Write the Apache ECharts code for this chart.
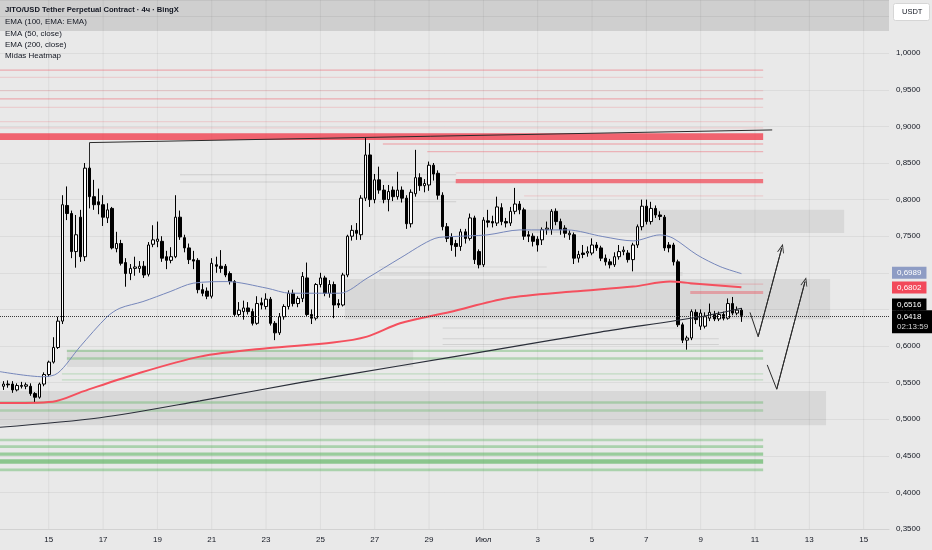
<!DOCTYPE html>
<html><head><meta charset="utf-8">
<script src="https://cdn.jsdelivr.net/npm/echarts@6/dist/echarts.min.js"></script>
<style>html,body{margin:0;padding:0;background:#e9e9e9;}#c{width:932px;height:550px;}</style>
</head><body><div id="c"></div>
<script>
// ---- data (4h candles from 13 June 08:00) ----
const startTime = Date.UTC(2025, 5, 13, 8);
const barMs = 4 * 3600 * 1000;

const opens = [
.545,.548,.548,.540,.546,.545,.545,.535,.530,.548,
.561,.578,.598,.634,.792,.781,.729,.776,.722,.843,
.804,.797,.793,.775,.788,.733,.740,.714,.699,.706,
.706,.709,.698,.739,.743,.743,.722,.717,.722,.776,
.748,.734,.718,.717,.677,.675,.668,.711,.709,.709,
.699,.688,.643,.647,.652,.647,.631,.659,.654,.664,
.631,.618,.640,.654,.672,.658,.665,.693,.643,.638,
.684,.693,.672,.684,.658,.656,.697,.750,.758,.752,
.802,.861,.800,.827,.813,.800,.813,.804,.813,.802,
.767,.808,.830,.819,.820,.847,.836,.806,.763,.749,
.740,.736,.756,.747,.775,.729,.711,.771,.770,.768,
.789,.770,.768,.784,.794,.786,.752,.750,.746,.745,
.759,.759,.784,.770,.761,.752,.752,.720,.727,.727,
.727,.738,.734,.720,.715,.711,.722,.729,.727,.718,
.738,.763,.791,.770,.788,.779,.776,.738,.738,.715,
.629,.608,.611,.646,.627,.627,.638,.643,.637,.643,
.638,.658,.645,.649];
const closes = [
.548,.547,.540,.546,.545,.547,.535,.530,.548,.561,
.578,.598,.634,.793,.781,.729,.752,.722,.843,.804,
.793,.793,.776,.786,.734,.740,.713,.699,.706,.708,
.709,.697,.738,.745,.746,.720,.717,.722,.776,.749,
.734,.718,.716,.677,.672,.668,.713,.709,.706,.697,
.688,.643,.649,.652,.647,.631,.658,.656,.664,.631,
.618,.640,.654,.672,.658,.665,.695,.643,.638,.684,
.693,.672,.684,.656,.656,.697,.750,.758,.754,.802,
.861,.800,.827,.813,.800,.811,.804,.813,.802,.767,
.810,.830,.819,.822,.847,.835,.806,.763,.747,.738,
.736,.756,.747,.775,.718,.711,.772,.769,.768,.790,
.770,.768,.784,.794,.786,.750,.750,.743,.738,.759,
.761,.784,.770,.759,.754,.754,.720,.725,.725,.729,
.738,.734,.720,.715,.711,.722,.729,.731,.718,.738,
.763,.791,.770,.788,.779,.777,.734,.734,.715,.629,
.608,.611,.647,.636,.645,.640,.646,.637,.643,.638,
.658,.645,.649,.6418];
const highs = [
.552,.553,.552,.549,.551,.550,.549,.537,.550,.564,
.580,.612,.640,.806,.818,.785,.779,.786,.850,.849,
.827,.815,.806,.795,.790,.756,.745,.720,.712,.722,
.716,.716,.742,.765,.770,.750,.730,.735,.806,.785,
.752,.740,.730,.720,.685,.680,.720,.722,.731,.712,
.702,.690,.660,.662,.660,.651,.668,.666,.672,.667,
.634,.645,.657,.676,.677,.668,.701,.714,.650,.686,
.700,.696,.690,.688,.664,.700,.752,.765,.768,.806,
.884,.877,.835,.845,.820,.820,.818,.838,.818,.806,
.814,.868,.836,.828,.852,.850,.840,.810,.768,.754,
.745,.760,.760,.781,.778,.732,.776,.786,.778,.804,
.795,.775,.790,.816,.798,.789,.757,.754,.750,.762,
.770,.787,.788,.774,.765,.758,.755,.730,.738,.736,
.747,.742,.737,.725,.719,.728,.738,.736,.731,.741,
.766,.800,.800,.797,.792,.784,.779,.742,.741,.718,
.632,.614,.650,.650,.650,.646,.658,.648,.647,.647,
.665,.667,.654,.652];
const lows = [
.540,.543,.536,.538,.542,.541,.532,.523,.528,.545,
.558,.576,.596,.630,.772,.720,.707,.715,.716,.788,
.786,.780,.764,.768,.732,.728,.710,.681,.690,.696,
.700,.693,.695,.735,.735,.715,.705,.713,.720,.745,
.728,.712,.705,.672,.668,.664,.665,.700,.700,.694,
.684,.640,.640,.636,.643,.628,.629,.650,.650,.628,
.608,.615,.636,.650,.654,.653,.660,.640,.630,.635,
.680,.668,.666,.638,.652,.654,.694,.744,.745,.745,
.798,.790,.795,.808,.795,.784,.798,.800,.796,.760,
.762,.804,.812,.810,.812,.826,.800,.758,.742,.730,
.722,.730,.740,.744,.712,.706,.708,.762,.762,.764,
.765,.762,.764,.780,.780,.745,.742,.736,.729,.738,
.752,.752,.765,.752,.748,.745,.712,.714,.720,.722,
.724,.730,.716,.710,.706,.708,.718,.724,.714,.702,
.734,.758,.766,.766,.775,.772,.730,.728,.710,.626,
.604,.595,.608,.630,.622,.624,.634,.634,.634,.635,
.636,.642,.642,.633];

// EMA lines, read at sample points [bar index, price]
const ema50 = [[-0.8,0.565],[8.7,0.558],[12,0.563],[16.9,0.599],[22.9,0.640],[25.7,0.6516],[30.8,0.6607],[36.8,0.6743],[41.9,0.6858],[49.4,0.688],[58.2,0.679],[63.3,0.6721],[74.3,0.6721],[80.3,0.6926],[87.6,0.720],[95.3,0.747],[99.3,0.7495],[106.8,0.7518],[114.1,0.7586],[124.5,0.7586],[132.4,0.7495],[139.1,0.7436],[145,0.7518],[147.9,0.7473],[153.2,0.7245],[158.3,0.7085],[163,0.6989]];
const ema100 = [[-0.8,0.522],[10.9,0.524],[17.6,0.538],[28.6,0.5605],[43.4,0.5855],[58.2,0.597],[72.8,0.6047],[80.3,0.6128],[87.6,0.6311],[98.6,0.6465],[111.2,0.6653],[125.8,0.6743],[139.1,0.6812],[147.2,0.688],[151.7,0.6858],[163,0.6802]];
const ema200 = [[-0.8,0.489],[21.3,0.502],[43.4,0.525],[65.5,0.550],[87.6,0.573],[109.7,0.596],[131.8,0.619],[153.9,0.640],[163,0.6516]];

// drawings
const trendLine = [[19,0.8451],[19,0.8779],[169.8,0.8952]];
const zigzagA = [[164.9,0.6459],[166.7,0.6128],[171.9,0.7336]];
const zigzagB = [[168.7,0.5742],[170.8,0.5410],[177.05,0.6880]];

// heatmap levels: [low, high, fromBar, toBar, strength]
const redLevels = [
[0.9761,0.9779,-0.8,167.8,0.35],[0.9662,0.9678,-0.8,167.8,0.15],[0.9482,0.9498,-0.8,167.8,0.15],
[0.9367,0.9385,-0.8,167.8,0.35],[0.9252,0.9268,-0.8,167.8,0.15],[0.9058,0.9074,-0.8,167.8,0.15],
[0.8972,0.8988,-0.8,167.8,0.15],[0.8816,0.8907,-0.8,167.8,0.75],[0.8751,0.8769,83.8,167.8,0.3],
[0.8647,0.8665,93.6,167.8,0.3],[0.8357,0.8373,99.9,167.8,0.15],[0.8224,0.8283,99.9,167.8,0.65],
[0.8042,0.8058,115,167.8,0.15],[0.6837,0.6853,151.7,167.8,0.2],[0.6712,0.6752,151.7,167.8,0.35]];
const greenLevels = [
[0.5918,0.5950,14,167.8,0.35],[0.5812,0.5845,14,167.8,0.35],[0.5610,0.5628,12.9,167.8,0.25],
[0.5528,0.5546,12.9,167.8,0.25],[0.5210,0.5244,-0.8,167.8,0.35],[0.5102,0.5135,-0.8,167.8,0.3],
[0.4700,0.4733,-0.8,167.8,0.35],[0.4607,0.4645,-0.8,167.8,0.4],[0.4500,0.4545,-0.8,167.8,0.5],
[0.4390,0.4452,-0.8,167.8,0.6],[0.4290,0.4325,-0.8,167.8,0.4]];
const grayLevels = [
[1.0305,1.0727,-0.8,195.6,0.11],[0.7545,0.786,115.2,185.7,0.07],[0.6366,0.6917,75.4,182.6,0.07],
[0.4918,0.5385,-0.8,181.7,0.07],[0.5713,0.5946,14,90.5,0.06],
[0.8333,0.8347,39,100,0.12],[0.8233,0.8247,39,100,0.12],[0.7963,0.7977,83,100,0.12],
[0.6993,0.7007,83,150,0.1],[0.6963,0.6977,83,150,0.1],[0.7073,0.7087,83,120,0.08],
[0.6240,0.6254,97,150,0.1],[0.6093,0.6107,97,158,0.1],[0.6013,0.6027,97,158,0.1]];

// axis ticks
const tickDates = [[2025,5,15],[2025,5,17],[2025,5,19],[2025,5,21],[2025,5,23],[2025,5,25],[2025,5,27],[2025,5,29],
                   [2025,6,1],[2025,6,3],[2025,6,5],[2025,6,7],[2025,6,9],[2025,6,11],[2025,6,13],[2025,6,15]];
const tickLabels = ['15','17','19','21','23','25','27','29','Июл','3','5','7','9','11','13','15'];
const countdown = '02:13:59';

// ---- chart ----
const FONT = '"Liberation Sans", Arial, sans-serif';
const TXT = '#131722';
const tickIdx = tickDates.map(d => Math.round((Date.UTC(d[0], d[1], d[2]) - startTime) / barMs));
const fmt = v => v.toFixed(4).replace('.', ',');
const X_MIN = -0.773, X_MAX = 195.6, Y_MIN = 0.35, Y_MAX = 1.0727;

const zone = (l, rgb) => [{coord: [Math.max(l[2], X_MIN), l[0]], itemStyle: {color: 'rgba(' + rgb + ',' + l[4] + ')'}}, {coord: [l[3], l[1]]}];
const areas = [];
tickIdx.forEach(t => areas.push([{coord: [t - 0.11, Y_MIN], itemStyle: {color: 'rgba(0,0,0,0.055)'}}, {coord: [t + 0.11, Y_MAX]}]));
grayLevels.forEach(l => areas.push(zone(l, '0,0,0')));
greenLevels.forEach(l => areas.push(zone(l, '76,175,80')));
redLevels.forEach(l => areas.push(zone(l, '242,54,69')));

const candleData = opens.map((o, i) => [i, o, closes[i], lows[i], highs[i]]);
const lastClose = closes[closes.length - 1];
const lastOf = a => a[a.length - 1][1];

const chevron = 'path://M0,10L5,0L10,10L8.8,10L5,2.6L1.2,10Z';
const drawStyle = {color: '#2b2b2b', width: 1};
const arrowMark = pts => ({
  silent: true, symbol: ['none', chevron], symbolSize: [7, 9], label: {show: false},
  lineStyle: {color: '#2b2b2b', width: 1, type: 'solid'}, emphasis: {disabled: true},
  data: [[{coord: pts[pts.length - 2]}, {coord: pts[pts.length - 1]}]]
});

const hidden = {color: 'rgba(0,0,0,0)', width: 0, type: 'solid'};
const tagLabel = (text, bg, off) => ({show: true, position: 'end', distance: 3, formatter: text, backgroundColor: bg,
  color: '#fff', opacity: 1, fontSize: 8, fontFamily: FONT, padding: [2, 5, 1, 5], lineHeight: 9, offset: off || [0, 0]});

const chart = echarts.init(document.getElementById('c'), null, {renderer: 'canvas'});
chart.setOption({
  animation: false,
  backgroundColor: '#e9e9e9',
  grid: {left: 0, right: 43, top: 0, bottom: 21, containLabel: false},
  xAxis: {
    type: 'value', min: X_MIN, max: X_MAX,
    axisLine: {show: true, lineStyle: {color: '#d2d2d2'}}, axisTick: {show: false}, splitLine: {show: false},
    axisLabel: {customValues: tickIdx, formatter: v => { const k = tickIdx.indexOf(Math.round(v)); return k < 0 ? '' : tickLabels[k]; },
      color: TXT, fontSize: 8, fontFamily: FONT, margin: 7}
  },
  yAxis: {
    type: 'value', position: 'right', min: Y_MIN, max: Y_MAX, interval: 0.05, scale: true,
    axisLine: {show: false}, axisTick: {show: false},
    splitLine: {lineStyle: {color: 'rgba(0,0,0,0.055)', width: 1}},
    axisLabel: {formatter: v => v > 1.001 ? '' : fmt(v), color: TXT, fontSize: 8, fontFamily: FONT, margin: 7, showMaxLabel: false}
  },
  series: [
    {
      type: 'candlestick', data: candleData, barWidth: 3, z: 3,
      itemStyle: {color: '#ffffff', color0: '#000000', borderColor: '#000000', borderColor0: '#000000', borderWidth: 1},
      markArea: {silent: true, label: {show: false}, emphasis: {disabled: true}, data: areas}
    },
    {type: 'line', data: ema200, smooth: 0.3, showSymbol: false, z: 4, lineStyle: {color: '#2a2e39', width: 1.2}},
    {type: 'line', data: ema100, smooth: 0.3, showSymbol: false, z: 4, lineStyle: {color: '#f4505e', width: 2}},
    {
      type: 'line', data: ema50, smooth: 0.3, showSymbol: false, z: 4, lineStyle: {color: '#7586ba', width: 1},
      markLine: {
        silent: true, symbol: ['none', 'none'], emphasis: {disabled: true},
        data: [
          {yAxis: lastOf(ema50), lineStyle: hidden, label: tagLabel(fmt(lastOf(ema50)), '#8e9cc4')},
          {yAxis: lastOf(ema100), lineStyle: hidden, label: tagLabel(fmt(lastOf(ema100)), '#f2495a')},
          {yAxis: lastOf(ema200), lineStyle: hidden, label: tagLabel(fmt(lastOf(ema200)), '#000000', [0, -5])},
          {yAxis: lastClose, lineStyle: {type: 'dotted', color: '#3a3a3a', width: 1, opacity: 1},
           label: Object.assign(tagLabel('{a|' + fmt(lastClose) + '}\n{b|' + countdown + '}', '#000000', [0, 5]),
             {rich: {a: {color: '#fff', fontSize: 8, fontFamily: FONT, lineHeight: 10}, b: {color: '#d6d6d6', fontSize: 8, fontFamily: FONT, lineHeight: 10}}})}
        ]
      }
    },
    {type: 'line', data: trendLine, showSymbol: false, z: 5, lineStyle: drawStyle},
    {type: 'line', data: zigzagA, showSymbol: false, z: 5, lineStyle: drawStyle, markLine: arrowMark(zigzagA)},
    {type: 'line', data: zigzagB, showSymbol: false, z: 5, lineStyle: drawStyle, markLine: arrowMark(zigzagB)}
  ],
  graphic: [
    {type: 'text', left: 5, top: 6, z: 10, style: {text: 'JITO/USD Tether Perpetual Contract · 4ч · BingX', fill: TXT, font: '600 7.6px ' + FONT}},
    {type: 'text', left: 5, top: 18, z: 10, style: {text: 'EMA (100, EMA: EMA)', fill: TXT, font: '8px ' + FONT}},
    {type: 'text', left: 5, top: 29.5, z: 10, style: {text: 'EMA (50, close)', fill: TXT, font: '8px ' + FONT}},
    {type: 'text', left: 5, top: 40.5, z: 10, style: {text: 'EMA (200, close)', fill: TXT, font: '8px ' + FONT}},
    {type: 'text', left: 5, top: 52, z: 10, style: {text: 'Midas Heatmap', fill: TXT, font: '8px ' + FONT}},
    {type: 'rect', left: 893, top: 3, z: 10, shape: {width: 36, height: 17, r: 2}, style: {fill: '#ffffff', stroke: '#d6d6d6', lineWidth: 1}},
    {type: 'text', left: 902, top: 8, z: 11, style: {text: 'USDT', fill: TXT, font: '7.5px ' + FONT}}
  ]
});
</script>
</body></html>
